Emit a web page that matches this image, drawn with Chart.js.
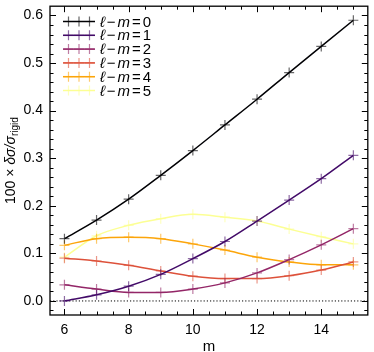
<!DOCTYPE html>
<html>
<head>
<meta charset="utf-8">
<script src="https://cdn.jsdelivr.net/npm/chart.js@4"></script>
<style>
  html, body { margin: 0; padding: 0; background: #fff; }
  #wrap { width: 374px; height: 352px; position: relative; }
</style>
</head>
<body>
<div id="wrap"><canvas id="chart"></canvas></div>
<script>
// m values along the x axis
const mValues = [6, 7, 8, 9, 10, 11, 12, 13, 14, 15];

// 100 x delta sigma / sigma_rigid, one array per l - m
const diff0 = [0.131, 0.170, 0.214, 0.264, 0.316, 0.370, 0.424, 0.480, 0.535, 0.590];
const diff1 = [0.000, 0.013, 0.031, 0.056, 0.089, 0.125, 0.168, 0.212, 0.257, 0.306];
const diff2 = [0.034, 0.025, 0.018, 0.018, 0.025, 0.038, 0.059, 0.087, 0.118, 0.152];
const diff3 = [0.090, 0.084, 0.075, 0.063, 0.052, 0.047, 0.047, 0.053, 0.065, 0.082];
const diff4 = [0.117, 0.131, 0.134, 0.131, 0.120, 0.107, 0.092, 0.082, 0.076, 0.076];
const diff5 = [0.092, 0.137, 0.159, 0.173, 0.182, 0.176, 0.168, 0.151, 0.135, 0.120];

const seriesLabels = ['0', '1', '2', '3', '4', '5'];
const seriesData = [diff0, diff1, diff2, diff3, diff4, diff5];
const seriesColors = ['#000004', '#420a68', '#932667', '#dd513a', '#fca50a', '#fcff94'];

// axis ticks
const xTicks = [6, 8, 10, 12, 14];
const yTicks = [0.0, 0.1, 0.2, 0.3, 0.4, 0.5, 0.6];
const xRange = [5.55, 15.45];
const yRange = [-0.0295, 0.6195];

const FONT = '"Liberation Sans", Arial, "DejaVu Sans", sans-serif';

function withAlpha(hex, a) {
    const n = parseInt(hex.slice(1), 16);
    return `rgba(${(n >> 16) & 255}, ${(n >> 8) & 255}, ${n & 255}, ${a})`;
}

function drawCross(ctx, x, y, r) {
    ctx.beginPath();
    ctx.moveTo(x - r, y); ctx.lineTo(x + r, y);
    ctx.moveTo(x, y - r); ctx.lineTo(x, y + r);
    ctx.stroke();
}

// draw a row of text pieces with different fonts, returns total width
function drawPieces(ctx, pieces, x, y, measureOnly) {
    let cx = x;
    pieces.forEach(p => {
        ctx.font = p.font;
        if (!measureOnly) ctx.fillText(p.t, cx, y + (p.dy || 0));
        cx += ctx.measureText(p.t).width + (p.gap || 0);
    });
    return cx - x;
}

// frame, inward ticks, zero line, legend and axis titles
const decorPlugin = {
    id: 'decor',
    beforeDatasetsDraw(chart) {
        const { ctx, chartArea: a, scales } = chart;
        const y0 = scales.y.getPixelForValue(0);
        ctx.save();
        ctx.strokeStyle = '#000';
        ctx.lineWidth = 1;
        ctx.setLineDash([1.2, 2]);
        ctx.beginPath();
        ctx.moveTo(a.left, y0);
        ctx.lineTo(a.right, y0);
        ctx.stroke();
        ctx.restore();
    },
    afterDraw(chart) {
        const { ctx, chartArea: a, scales } = chart;
        ctx.save();
        ctx.strokeStyle = '#000';

        // ticks
        ctx.lineWidth = 1;
        const major = 6, minor = 3.5;
        ctx.beginPath();
        for (let v = 5.5; v <= 15.5; v += 0.5) {
            if (v < xRange[0] || v > xRange[1]) continue;
            const px = Math.round(scales.x.getPixelForValue(v)) + 0.5;
            const len = xTicks.includes(v) ? major : minor;
            ctx.moveTo(px, a.bottom); ctx.lineTo(px, a.bottom - len);
            ctx.moveTo(px, a.top); ctx.lineTo(px, a.top + len);
        }
        for (let k = -2; k <= 62; k += 2) {
            const v = k / 100;
            if (v < yRange[0] || v > yRange[1]) continue;
            const py = Math.round(scales.y.getPixelForValue(v)) + 0.5;
            const len = k % 10 === 0 ? major : minor;
            ctx.moveTo(a.left, py); ctx.lineTo(a.left + len, py);
            ctx.moveTo(a.right, py); ctx.lineTo(a.right - len, py);
        }
        ctx.stroke();

        // frame
        ctx.lineWidth = 1.3;
        ctx.strokeRect(a.left, a.top, a.right - a.left, a.bottom - a.top);

        // legend
        ctx.fillStyle = '#000';
        ctx.textBaseline = 'middle';
        ctx.textAlign = 'left';
        chart.data.datasets.forEach((ds, i) => {
            const ly = 21.5 + i * 13.8;
            ctx.strokeStyle = ds.borderColor;
            ctx.lineWidth = 1.5;
            ctx.beginPath();
            ctx.moveTo(63, ly); ctx.lineTo(95, ly);
            ctx.stroke();
            ctx.strokeStyle = ds.pointBorderColor;
            ctx.lineWidth = 1.2;
            [68.5, 79, 89.5].forEach(mx => drawCross(ctx, mx, ly, 5));
            const it = 'italic 15px ' + FONT, rm = '15px ' + FONT;
            drawPieces(ctx, [
                { t: 'ℓ', font: it, gap: 2 },
                { t: '−', font: rm, gap: 2 },
                { t: 'm', font: it, gap: 2 },
                { t: '=', font: rm, gap: 2 },
                { t: seriesLabels[i], font: rm }
            ], 100, ly + 1);
        });

        // x title
        ctx.font = '15px ' + FONT;
        ctx.textAlign = 'center';
        ctx.textBaseline = 'alphabetic';
        ctx.fillText('m', (a.left + a.right) / 2, 351);

        // y title
        const pieces = [
            { t: '100 × ', font: '14px ' + FONT },
            { t: 'δσ/σ', font: 'italic 14px ' + FONT },
            { t: 'rigid', font: '10px ' + FONT, dy: 4 }
        ];
        ctx.translate(11, (a.top + a.bottom) / 2);
        ctx.rotate(-Math.PI / 2);
        ctx.textAlign = 'left';
        ctx.textBaseline = 'middle';
        const w = drawPieces(ctx, pieces, 0, 0, true);
        drawPieces(ctx, pieces, -w / 2, 0);
        ctx.restore();
    }
};

const datasets = seriesData.map((vals, i) => ({
    label: 'ℓ − m = ' + seriesLabels[i],
    data: mValues.map((m, j) => ({ x: m, y: vals[j] })),
    borderColor: seriesColors[i],
    borderWidth: 1.5,
    pointStyle: 'cross',
    pointRadius: 5,
    pointBorderWidth: 1.2,
    pointBorderColor: withAlpha(seriesColors[i], 0.6),
    pointBackgroundColor: 'transparent',
    cubicInterpolationMode: 'monotone',
    clip: false
}));

new Chart(document.getElementById('chart'), {
    type: 'line',
    data: { datasets: datasets },
    plugins: [decorPlugin],
    options: {
        responsive: true,
        maintainAspectRatio: false,
        animation: false,
        devicePixelRatio: 1,
        layout: { padding: { top: 1, right: 2, left: 0, bottom: 0 } },
        plugins: { legend: { display: false }, tooltip: { enabled: false } },
        scales: {
            x: {
                type: 'linear',
                min: xRange[0],
                max: xRange[1],
                afterBuildTicks: s => { s.ticks = xTicks.map(v => ({ value: v })); },
                afterFit: s => { s.height = 37; s.paddingLeft = 0; s.paddingRight = 0; },
                grid: { display: false, drawTicks: false },
                border: { display: false },
                ticks: {
                    autoSkip: false, maxRotation: 0, padding: 7, color: '#000',
                    font: { family: FONT, size: 14 },
                    callback: v => String(v)
                }
            },
            y: {
                type: 'linear',
                min: yRange[0],
                max: yRange[1],
                afterBuildTicks: s => { s.ticks = yTicks.map(v => ({ value: v })); },
                afterFit: s => { s.width = 50; s.paddingTop = 0; s.paddingBottom = 0; },
                grid: { display: false, drawTicks: false },
                border: { display: false },
                ticks: {
                    autoSkip: false, padding: 7, color: '#000',
                    font: { family: FONT, size: 14 },
                    callback: v => v.toFixed(1)
                }
            }
        }
    }
});
</script>
</body>
</html>
